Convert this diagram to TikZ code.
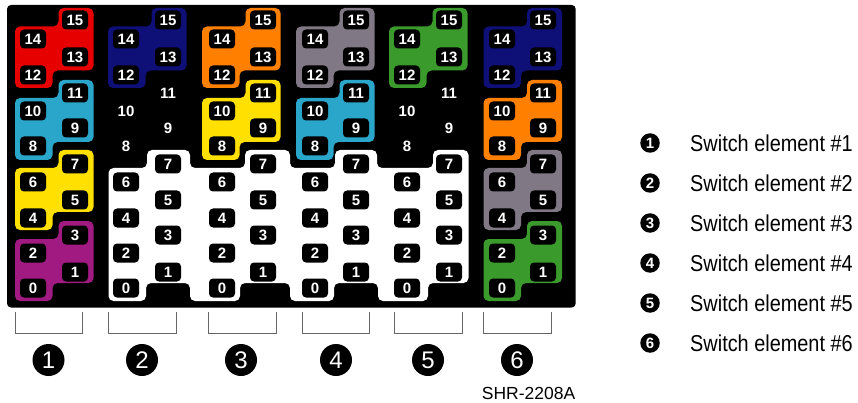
\documentclass[tikz,border=0pt]{standalone}
\usepackage{fontspec}
\setmainfont{Liberation Sans}
\newfontfamily\legendfont[FakeStretch=0.865]{Liberation Sans}
\definecolor{cred}{HTML}{E60000}
\definecolor{cnavy}{HTML}{0F0F78}
\definecolor{ccyan}{HTML}{2BA6CB}
\definecolor{cyellow}{HTML}{FFE000}
\definecolor{cpurple}{HTML}{A01A82}
\definecolor{corange}{HTML}{FF8000}
\definecolor{cgray}{HTML}{807885}
\definecolor{cgreen}{HTML}{3B9A2C}
\definecolor{cbracket}{HTML}{666666}
\newcommand{\blob}[6]{% colour, left, top, notch, lower, bottom
  \fill[#1,rounded corners=5pt] (#2+43.5,#3) -- (#2+78.5,#3) -- (#2+78.5,#5) -- (#2+37.5,#5)
    -- (#2+37.5,#6) -- (#2,#6) -- (#2,#4) -- (#2+43.5,#4) -- cycle;}
\tikzset{
  x=1pt,y=-1pt,
  port/.style={fill=black,text=white,rounded corners=4pt,minimum width=26pt,minimum height=19pt,
    inner sep=0pt,font=\fontsize{15}{15}\selectfont\bfseries},
  bigmark/.style={circle,fill=black,text=white,minimum size=32pt,inner sep=0pt,font=\fontsize{24}{24}\selectfont},
  smallmark/.style={circle,fill=black,text=white,minimum size=19.5pt,inner sep=0pt,font=\fontsize{15}{15}\selectfont\bfseries},
  legendtext/.style={anchor=west,inner sep=0pt,font=\fontsize{23}{23}\legendfont},
  bracket/.style={draw=cbracket,line width=0.9pt},
}
\begin{document}
\begin{tikzpicture}
\useasboundingbox (0,0) rectangle (858,403);
\fill[black,rounded corners=4pt] (7,5) rectangle (575.7,307.5);
% white element area
\fill[white,rounded corners=5pt]
  (108.5,168) -- (147,168) -- (147,150) -- (190,150) -- (190,168) -- (245,168) -- (245,150) -- (290,150)
  -- (290,168) -- (335,168) -- (335,150) -- (377,150) -- (377,168) -- (433,168) -- (433,150) -- (468.5,150)
  -- (468.5,283) -- (428,283) -- (428,301) -- (378,301) -- (378,283) -- (334,283) -- (334,301) -- (290,301)
  -- (290,283) -- (240,283) -- (240,301) -- (190,301) -- (190,283) -- (146,283) -- (146,301) -- (108.5,301) -- cycle;
% coloured groups
\blob{cred}{15}{8}{26.5}{70.5}{88}
\blob{ccyan}{15}{80}{98}{142}{160}
\blob{cyellow}{15}{150}{168}{212}{230}
\blob{cpurple}{15}{221}{239}{283}{301}
\blob{cnavy}{108}{8}{26.5}{70.5}{88}
\blob{corange}{202}{8}{26.5}{70.5}{88}
\blob{cyellow}{202}{80}{98}{142}{160}
\blob{cgray}{296}{8}{26.5}{70.5}{88}
\blob{ccyan}{296}{80}{98}{142}{160}
\blob{cgreen}{389}{8}{26.5}{70.5}{88}
\blob{cnavy}{483.5}{8}{26.5}{70.5}{88}
\blob{corange}{483.5}{80}{98}{142}{160}
\blob{cgray}{483.5}{150}{168}{212}{230}
\blob{cgreen}{483.5}{221}{239}{283}{301}
% ports
\foreach \c/\ex/\ox in {1/33/75,2/126/168,3/222/263,4/315/356,5/407/449,6/502/543}{
  \foreach \n/\y in {14/39,12/75,10/111,8/146,6/182,4/218,2/253,0/288}
    \node[port] (p\c-\n) at (\ex,\y) {\n};
  \foreach \n/\y in {15/20,13/57,11/93,9/128,7/164,5/200,3/235,1/272}
    \node[port] (p\c-\n) at (\ox,\y) {\n};
}
% brackets and numbered marks
\foreach \l/\r in {15/82,108.7/176.3,208.3/276.7,302/369.5,394/462,483/551}
  \draw[bracket] (\l,312) -- (\l,333) -- (\r,333) -- (\r,312);
\foreach \n/\x in {1/48.5,2/142,3/241,4/336,5/428,6/517}
  \node[bigmark] (big\n) at (\x,360) {\n};
% legend
\foreach \n/\y in {1/143,2/183,3/223,4/263,5/303,6/343}{
  \node[smallmark] (leg\n) at (650,\y) {\n};
  \node[legendtext] (legt\n) at (690,\y) {Switch element \#\n};
}
\node[anchor=east,inner sep=0pt,font=\fontsize{17.5}{17.5}\selectfont] (code) at (575.5,393) {SHR-2208A};
\end{tikzpicture}
\end{document}
